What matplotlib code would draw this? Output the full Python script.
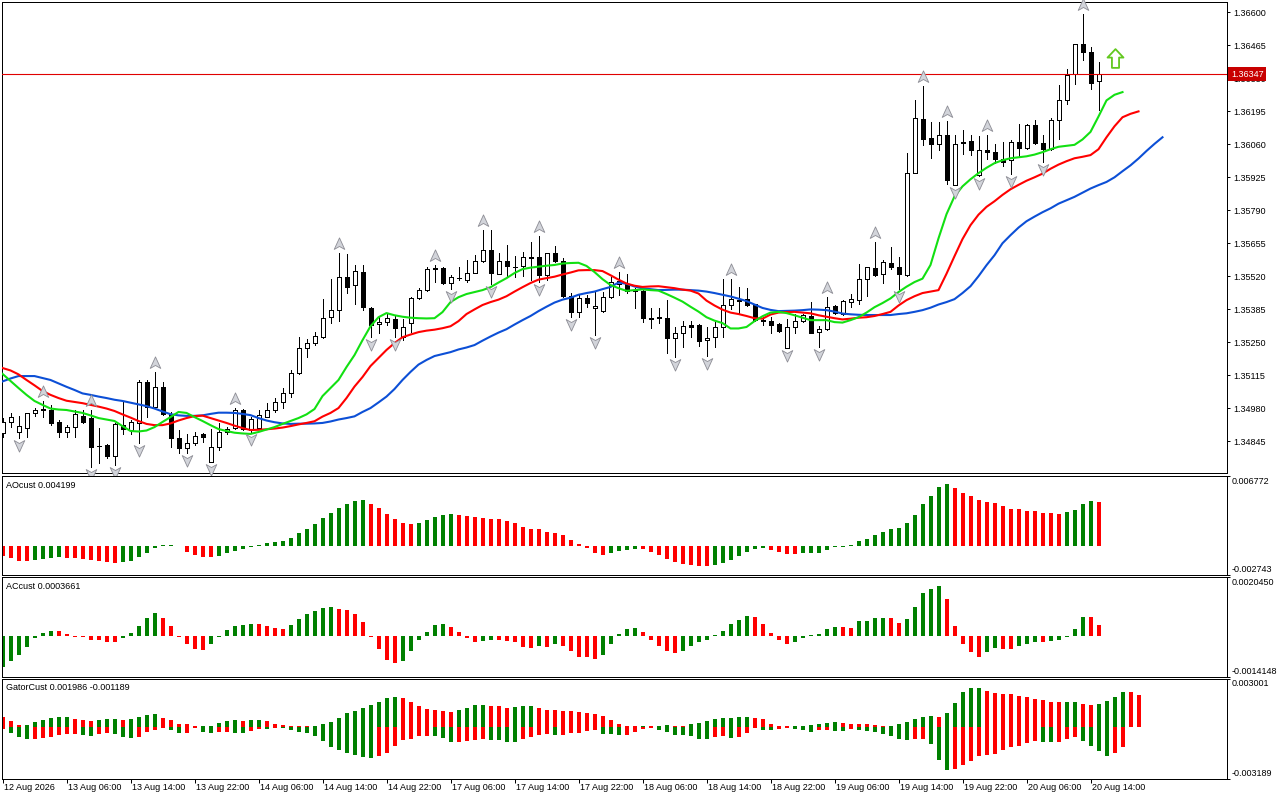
import numpy as np
import matplotlib
matplotlib.use("Agg")
import matplotlib.pyplot as plt
from matplotlib.path import Path
from matplotlib.transforms import offset_copy, blended_transform_factory

# ---------------- data (H1 bars, 12 Aug 22:00 .. 20 Aug 15:00) ----------------
open_ = [1.34878, 1.34922, 1.34881, 1.34897, 1.34959, 1.34974, 1.34972, 1.34922, 1.34881, 1.34901,
         1.34948, 1.34938, 1.34825, 1.34829, 1.34785, 1.34911, 1.34890, 1.34918, 1.35085, 1.34986,
         1.35067, 1.34954, 1.34856, 1.34815, 1.34836, 1.34874, 1.34758, 1.34822, 1.34883, 1.34897,
         1.34972, 1.34890, 1.34897, 1.34945, 1.34971, 1.35006, 1.35043, 1.35122, 1.35225, 1.35247,
         1.35272, 1.35351, 1.35381, 1.35515, 1.35483, 1.35538, 1.35388, 1.35323, 1.35331, 1.35344,
         1.35272, 1.35327, 1.35429, 1.35463, 1.35551, 1.35552, 1.35494, 1.35512, 1.35504, 1.35535,
         1.35582, 1.35629, 1.35531, 1.35583, 1.35557, 1.35561, 1.35599, 1.35597, 1.35524, 1.35613,
         1.35583, 1.35438, 1.35374, 1.35429, 1.35388, 1.35378, 1.35433, 1.35490, 1.35490, 1.35463,
         1.35460, 1.35348, 1.35347, 1.35347, 1.35265, 1.35286, 1.35320, 1.35320, 1.35258, 1.35269,
         1.35310, 1.35404, 1.35420, 1.35425, 1.35406, 1.35340, 1.35336, 1.35323, 1.35225, 1.35313,
         1.35336, 1.35357, 1.35290, 1.35302, 1.35398, 1.35364, 1.35415, 1.35422, 1.35507, 1.35552,
         1.35528, 1.35575, 1.35558, 1.35524, 1.35943, 1.36165, 1.36087, 1.36063, 1.36100, 1.35892,
         1.36067, 1.36072, 1.35933, 1.36036, 1.36029, 1.35998, 1.35995, 1.36069, 1.36047, 1.36138,
         1.36065, 1.36043, 1.36161, 1.36243, 1.36349, 1.36472, 1.36438, 1.36318]
high = [1.34939, 1.34960, 1.34949, 1.34961, 1.34980, 1.35009, 1.34993, 1.34931, 1.34911, 1.34972,
        1.34972, 1.34972, 1.34898, 1.34832, 1.34918, 1.35006, 1.34931, 1.35095, 1.35095, 1.35129,
        1.35088, 1.34965, 1.34890, 1.34874, 1.34881, 1.34877, 1.34893, 1.34920, 1.34904, 1.34979,
        1.34975, 1.34944, 1.34972, 1.34999, 1.35020, 1.35061, 1.35136, 1.35272, 1.35261, 1.35292,
        1.35426, 1.35507, 1.35613, 1.35610, 1.35565, 1.35565, 1.35392, 1.35357, 1.35368, 1.35357,
        1.35343, 1.35436, 1.35470, 1.35558, 1.35565, 1.35556, 1.35524, 1.35558, 1.35586, 1.35606,
        1.35711, 1.35711, 1.35616, 1.35647, 1.35602, 1.35620, 1.35660, 1.35684, 1.35616, 1.35643,
        1.35593, 1.35450, 1.35443, 1.35443, 1.35456, 1.35456, 1.35517, 1.35538, 1.35531, 1.35471,
        1.35470, 1.35388, 1.35388, 1.35422, 1.35313, 1.35336, 1.35336, 1.35324, 1.35310, 1.35333,
        1.35507, 1.35507, 1.35476, 1.35470, 1.35408, 1.35351, 1.35354, 1.35327, 1.35343, 1.35364,
        1.35364, 1.35415, 1.35316, 1.35433, 1.35402, 1.35422, 1.35446, 1.35572, 1.35558, 1.35660,
        1.35588, 1.35638, 1.35599, 1.36024, 1.36240, 1.36301, 1.36151, 1.36151, 1.36155, 1.36097,
        1.36117, 1.36097, 1.36093, 1.36097, 1.36063, 1.36069, 1.36079, 1.36142, 1.36142, 1.36161,
        1.36097, 1.36169, 1.36305, 1.36370, 1.36472, 1.36595, 1.36458, 1.36397]
low = [1.34862, 1.34903, 1.34856, 1.34860, 1.34948, 1.34945, 1.34911, 1.34863, 1.34863, 1.34863,
       1.34920, 1.34740, 1.34755, 1.34777, 1.34747, 1.34874, 1.34874, 1.34837, 1.34945, 1.34979,
       1.34952, 1.34822, 1.34795, 1.34795, 1.34829, 1.34842, 1.34758, 1.34808, 1.34874, 1.34893,
       1.34890, 1.34882, 1.34893, 1.34942, 1.34965, 1.34979, 1.35027, 1.35119, 1.35190, 1.35238,
       1.35265, 1.35327, 1.35337, 1.35452, 1.35408, 1.35381, 1.35269, 1.35288, 1.35320, 1.35269,
       1.35258, 1.35292, 1.35425, 1.35460, 1.35497, 1.35490, 1.35466, 1.35504, 1.35497, 1.35534,
       1.35579, 1.35487, 1.35528, 1.35517, 1.35515, 1.35520, 1.35504, 1.35497, 1.35504, 1.35579,
       1.35433, 1.35351, 1.35354, 1.35392, 1.35279, 1.35374, 1.35429, 1.35443, 1.35450, 1.35388,
       1.35333, 1.35306, 1.35327, 1.35207, 1.35190, 1.35228, 1.35272, 1.35234, 1.35193, 1.35231,
       1.35272, 1.35384, 1.35368, 1.35398, 1.35337, 1.35320, 1.35286, 1.35292, 1.35225, 1.35286,
       1.35333, 1.35286, 1.35231, 1.35299, 1.35364, 1.35361, 1.35395, 1.35406, 1.35438, 1.35520,
       1.35493, 1.35548, 1.35466, 1.35520, 1.35943, 1.36056, 1.36006, 1.36036, 1.35896, 1.35892,
       1.36022, 1.36015, 1.35929, 1.35998, 1.35984, 1.35970, 1.35940, 1.36011, 1.36043, 1.36063,
       1.35988, 1.36038, 1.36083, 1.36227, 1.36308, 1.36404, 1.36288, 1.36202]
close = [1.34923, 1.34945, 1.34908, 1.34959, 1.34972, 1.34976, 1.34920, 1.34881, 1.34901, 1.34954,
         1.34924, 1.34822, 1.34823, 1.34785, 1.34914, 1.34893, 1.34922, 1.35085, 1.34986, 1.35067,
         1.34954, 1.34856, 1.34815, 1.34836, 1.34867, 1.34860, 1.34822, 1.34883, 1.34893, 1.34972,
         1.34893, 1.34934, 1.34952, 1.34972, 1.35006, 1.35043, 1.35122, 1.35225, 1.35245, 1.35275,
         1.35347, 1.35381, 1.35515, 1.35476, 1.35541, 1.35392, 1.35320, 1.35331, 1.35347, 1.35306,
         1.35313, 1.35429, 1.35463, 1.35548, 1.35553, 1.35493, 1.35515, 1.35514, 1.35535, 1.35582,
         1.35627, 1.35534, 1.35583, 1.35561, 1.35559, 1.35599, 1.35593, 1.35524, 1.35613, 1.35583,
         1.35438, 1.35374, 1.35429, 1.35411, 1.35399, 1.35436, 1.35497, 1.35500, 1.35460, 1.35461,
         1.35347, 1.35346, 1.35354, 1.35265, 1.35286, 1.35317, 1.35313, 1.35256, 1.35265, 1.35310,
         1.35404, 1.35425, 1.35422, 1.35402, 1.35340, 1.35336, 1.35320, 1.35296, 1.35310, 1.35336,
         1.35360, 1.35288, 1.35302, 1.35392, 1.35368, 1.35418, 1.35425, 1.35507, 1.35556, 1.35524,
         1.35579, 1.35558, 1.35528, 1.35943, 1.36169, 1.36083, 1.36063, 1.36097, 1.35916, 1.36063,
         1.36069, 1.36038, 1.36036, 1.36029, 1.35998, 1.35988, 1.36069, 1.36047, 1.36138, 1.36065,
         1.36043, 1.36161, 1.36243, 1.36346, 1.36472, 1.36438, 1.36311, 1.36347]

# Alligator lines (as displayed, shifted forward)
lips = [1.35120, 1.35091, 1.35062, 1.35034, 1.35009, 1.34993, 1.34978, 1.34974, 1.34972, 1.34966,
        1.34960, 1.34950, 1.34939, 1.34933, 1.34927, 1.34906, 1.34886, 1.34884, 1.34888, 1.34902,
        1.34923, 1.34943, 1.34964, 1.34960, 1.34943, 1.34927, 1.34910, 1.34894, 1.34886, 1.34879,
        1.34876, 1.34874, 1.34882, 1.34892, 1.34902, 1.34915, 1.34927, 1.34939, 1.34954, 1.34976,
        1.35029, 1.35062, 1.35095, 1.35148, 1.35197, 1.35258, 1.35315, 1.35352, 1.35369, 1.35360,
        1.35354, 1.35350, 1.35348, 1.35347, 1.35348, 1.35373, 1.35414, 1.35434, 1.35447, 1.35455,
        1.35463, 1.35475, 1.35494, 1.35512, 1.35533, 1.35549, 1.35555, 1.35559, 1.35563, 1.35566,
        1.35572, 1.35574, 1.35575, 1.35562, 1.35537, 1.35508, 1.35484, 1.35471, 1.35460, 1.35463,
        1.35466, 1.35463, 1.35461, 1.35447, 1.35432, 1.35416, 1.35395, 1.35375, 1.35352, 1.35338,
        1.35328, 1.35306, 1.35306, 1.35312, 1.35336, 1.35356, 1.35371, 1.35374, 1.35369, 1.35360,
        1.35350, 1.35340, 1.35340, 1.35340, 1.35332, 1.35330, 1.35340, 1.35352, 1.35371, 1.35393,
        1.35410, 1.35429, 1.35455, 1.35477, 1.35496, 1.35510, 1.35566, 1.35675, 1.35774, 1.35847,
        1.35888, 1.35917, 1.35942, 1.35964, 1.35983, 1.35995, 1.36003, 1.36007, 1.36011, 1.36018,
        1.36028, 1.36040, 1.36050, 1.36054, 1.36058, 1.36080, 1.36111, 1.36174, 1.36240, 1.36263,
        1.36274]
teeth = [1.35144, 1.35134, 1.35118, 1.35095, 1.35073, 1.35050, 1.35034, 1.35021, 1.35010, 1.35005,
         1.35000, 1.34993, 1.34986, 1.34978, 1.34968, 1.34954, 1.34941, 1.34927, 1.34915, 1.34910,
         1.34910, 1.34917, 1.34929, 1.34939, 1.34947, 1.34949, 1.34939, 1.34929, 1.34919, 1.34908,
         1.34898, 1.34890, 1.34891, 1.34893, 1.34896, 1.34900, 1.34906, 1.34913, 1.34919, 1.34926,
         1.34945, 1.34960, 1.34980, 1.35021, 1.35068, 1.35107, 1.35152, 1.35185, 1.35218, 1.35246,
         1.35270, 1.35281, 1.35291, 1.35297, 1.35301, 1.35307, 1.35315, 1.35336, 1.35365, 1.35384,
         1.35402, 1.35414, 1.35424, 1.35438, 1.35457, 1.35475, 1.35492, 1.35506, 1.35512, 1.35518,
         1.35527, 1.35535, 1.35544, 1.35545, 1.35545, 1.35541, 1.35524, 1.35506, 1.35490, 1.35481,
         1.35476, 1.35478, 1.35479, 1.35475, 1.35471, 1.35465, 1.35461, 1.35449, 1.35420, 1.35400,
         1.35383, 1.35371, 1.35365, 1.35357, 1.35348, 1.35346, 1.35363, 1.35371, 1.35373, 1.35374,
         1.35371, 1.35368, 1.35360, 1.35354, 1.35348, 1.35343, 1.35346, 1.35350, 1.35352, 1.35357,
         1.35365, 1.35374, 1.35400, 1.35422, 1.35438, 1.35451, 1.35457, 1.35463, 1.35530, 1.35602,
         1.35672, 1.35729, 1.35772, 1.35804, 1.35827, 1.35853, 1.35876, 1.35894, 1.35911, 1.35925,
         1.35940, 1.35960, 1.35977, 1.35991, 1.36003, 1.36009, 1.36016, 1.36040, 1.36089, 1.36134,
         1.36171, 1.36185, 1.36195]
jaw = [1.35089, 1.35101, 1.35111, 1.35111, 1.35111, 1.35103, 1.35095, 1.35081, 1.35067, 1.35054,
       1.35040, 1.35034, 1.35027, 1.35021, 1.35014, 1.35009, 1.35002, 1.34995, 1.34988, 1.34978,
       1.34966, 1.34955, 1.34950, 1.34948, 1.34948, 1.34950, 1.34956, 1.34961, 1.34961, 1.34960,
       1.34956, 1.34951, 1.34939, 1.34929, 1.34922, 1.34917, 1.34915, 1.34916, 1.34916, 1.34917,
       1.34919, 1.34925, 1.34933, 1.34939, 1.34946, 1.34964, 1.34980, 1.35003, 1.35027, 1.35058,
       1.35095, 1.35128, 1.35158, 1.35177, 1.35193, 1.35201, 1.35209, 1.35220, 1.35228, 1.35238,
       1.35256, 1.35273, 1.35289, 1.35303, 1.35322, 1.35340, 1.35357, 1.35377, 1.35395, 1.35412,
       1.35424, 1.35432, 1.35444, 1.35451, 1.35457, 1.35467, 1.35476, 1.35494, 1.35489, 1.35478,
       1.35470, 1.35467, 1.35463, 1.35464, 1.35465, 1.35465, 1.35463, 1.35461, 1.35457, 1.35451,
       1.35444, 1.35437, 1.35428, 1.35418, 1.35404, 1.35390, 1.35382, 1.35377, 1.35378, 1.35379,
       1.35381, 1.35384, 1.35383, 1.35381, 1.35375, 1.35367, 1.35364, 1.35362, 1.35361, 1.35361,
       1.35361, 1.35361, 1.35365, 1.35368, 1.35374, 1.35381, 1.35391, 1.35404, 1.35414, 1.35426,
       1.35451, 1.35479, 1.35520, 1.35565, 1.35606, 1.35655, 1.35688, 1.35719, 1.35745, 1.35764,
       1.35782, 1.35798, 1.35817, 1.35831, 1.35845, 1.35862, 1.35879, 1.35893, 1.35906, 1.35925,
       1.35950, 1.35974, 1.36002, 1.36033, 1.36062, 1.36089]

fractal_up = [5, 11, 19, 29, 42, 54, 60, 67, 77, 91, 103, 109, 115, 118, 123, 135]
fractal_down = [2, 11, 14, 17, 23, 26, 31, 46, 49, 56, 61, 67, 71, 74, 84, 88, 98, 102,
                112, 119, 122, 126, 130]

signal_index = [139]
signal_price = [1.36412]
bid_price = 1.36347

ao = [-0.00093, -0.00109, -0.00141, -0.00142, -0.00131, -0.00125, -0.00109, -0.00103, -0.00109, -0.00115,
      -0.00125, -0.00135, -0.00141, -0.00151, -0.00160, -0.00151, -0.00141, -0.00103, -0.00064, -0.00013,
      0.00008, 0.00009, 0.00007, -0.00054, -0.00086, -0.00103, -0.00105, -0.00093, -0.00067, -0.00048,
      -0.00026, -0.00008, 0.00009, 0.00029, 0.00038, 0.00051, 0.00083, 0.00125, 0.00163, 0.00211,
      0.00272, 0.00317, 0.00362, 0.00404, 0.00436, 0.00442, 0.00404, 0.00362, 0.00308, 0.00259,
      0.00221, 0.00211, 0.00221, 0.00250, 0.00276, 0.00298, 0.00308, 0.00298, 0.00292, 0.00276,
      0.00269, 0.00259, 0.00257, 0.00240, 0.00221, 0.00189, 0.00170, 0.00168, 0.00138, 0.00125,
      0.00106, 0.00058, 0.00019, -0.00013, -0.00067, -0.00083, -0.00067, -0.00045, -0.00038, -0.00029,
      -0.00030, -0.00058, -0.00086, -0.00125, -0.00154, -0.00173, -0.00183, -0.00192, -0.00193, -0.00183,
      -0.00163, -0.00135, -0.00093, -0.00058, -0.00026, -0.00019, -0.00038, -0.00054, -0.00077, -0.00078,
      -0.00067, -0.00066, -0.00064, -0.00038, -0.00010, -0.00007, 0.00008, 0.00048, 0.00070, 0.00106,
      0.00138, 0.00167, 0.00176, 0.00221, 0.00301, 0.00404, 0.00481, 0.00570, 0.00596, 0.00557,
      0.00509, 0.00481, 0.00442, 0.00423, 0.00413, 0.00384, 0.00359, 0.00358, 0.00340, 0.00339,
      0.00317, 0.00316, 0.00311, 0.00327, 0.00349, 0.00404, 0.00432, 0.004199]
ac = [-0.00109, -0.00089, -0.00066, -0.00040, -0.00009, 0.00010, 0.00017, 0.00016, 0.00007, -0.00004,
      -0.00005, -0.00013, -0.00016, -0.00020, -0.00021, -0.00007, 0.00010, 0.00035, 0.00062, 0.00080,
      0.00062, 0.00035, -0.00004, -0.00030, -0.00047, -0.00051, -0.00030, -0.00005, 0.00021, 0.00035,
      0.00038, 0.00042, 0.00041, 0.00035, 0.00028, 0.00024, 0.00038, 0.00059, 0.00076, 0.00087,
      0.00097, 0.00101, 0.00094, 0.00090, 0.00076, 0.00049, -0.00004, -0.00047, -0.00083, -0.00094,
      -0.00089, -0.00054, -0.00016, 0.00014, 0.00038, 0.00042, 0.00031, 0.00014, -0.00006, -0.00020,
      -0.00019, -0.00013, -0.00016, -0.00017, -0.00023, -0.00040, -0.00044, -0.00037, -0.00040, -0.00030,
      -0.00037, -0.00054, -0.00072, -0.00073, -0.00082, -0.00065, -0.00027, 0.00005, 0.00024, 0.00028,
      0.00014, -0.00016, -0.00037, -0.00054, -0.00061, -0.00054, -0.00034, -0.00023, -0.00016, 0.00004,
      0.00017, 0.00042, 0.00056, 0.00069, 0.00066, 0.00042, 0.00010, -0.00013, -0.00030, -0.00023,
      -0.00009, 0.00004, 0.00005, 0.00024, 0.00031, 0.00030, 0.00028, 0.00050, 0.00052, 0.00062,
      0.00063, 0.00062, 0.00045, 0.00059, 0.00101, 0.00149, 0.00163, 0.00174, 0.00128, 0.00035,
      -0.00030, -0.00058, -0.00075, -0.00058, -0.00044, -0.00045, -0.00047, -0.00034, -0.00027, -0.00020,
      -0.00021, -0.00019, -0.00013, -0.00004, 0.00024, 0.00066, 0.00065, 0.0003661]
gator_up = [0.00062, 0.00039, 0.00014, 0.00016, 0.00035, 0.00045, 0.00056, 0.00060, 0.00061, 0.00051,
            0.00045, 0.00039, 0.00047, 0.00051, 0.00052, 0.00045, 0.00051, 0.00062, 0.00078, 0.00079,
            0.00058, 0.00045, 0.00021, 0.00020, 0.00006, 0.00008, 0.00010, 0.00029, 0.00041, 0.00045,
            0.00041, 0.00045, 0.00046, 0.00041, 0.00021, 0.00014, 0.00009, 0.00007, 0.00006, 0.00010,
            0.00022, 0.00035, 0.00056, 0.00086, 0.00099, 0.00117, 0.00138, 0.00158, 0.00181, 0.00185,
            0.00179, 0.00154, 0.00130, 0.00113, 0.00107, 0.00099, 0.00095, 0.00107, 0.00119, 0.00134,
            0.00138, 0.00130, 0.00129, 0.00117, 0.00123, 0.00130, 0.00131, 0.00119, 0.00107, 0.00106,
            0.00103, 0.00097, 0.00096, 0.00088, 0.00082, 0.00068, 0.00045, 0.00021, 0.00008, 0.00006,
            0.00007, 0.00006, 0.00008, 0.00014, 0.00010, 0.00006, 0.00021, 0.00029, 0.00039, 0.00051,
            0.00058, 0.00059, 0.00060, 0.00064, 0.00056, 0.00051, 0.00021, 0.00008, 0.00006, 0.00007,
            0.00010, 0.00016, 0.00017, 0.00029, 0.00035, 0.00029, 0.00021, 0.00020, 0.00019, 0.00014,
            0.00006, 0.00008, 0.00021, 0.00035, 0.00051, 0.00060, 0.00070, 0.00064, 0.00088, 0.00150,
            0.00218, 0.00243, 0.00244, 0.00224, 0.00212, 0.00206, 0.00205, 0.00193, 0.00187, 0.00175,
            0.00169, 0.00156, 0.00155, 0.00156, 0.00157, 0.00144, 0.00138, 0.00144, 0.00163, 0.00187,
            0.00216, 0.00215, 0.001986]
gator_down = [-0.00014, -0.00037, -0.00062, -0.00072, -0.00070, -0.00068, -0.00062, -0.00047, -0.00041, -0.00040,
              -0.00047, -0.00053, -0.00041, -0.00035, -0.00041, -0.00058, -0.00066, -0.00058, -0.00027, -0.00016,
              -0.00006, -0.00016, -0.00035, -0.00034, -0.00006, -0.00027, -0.00035, -0.00031, -0.00030, -0.00035,
              -0.00036, -0.00021, -0.00010, -0.00011, -0.00006, -0.00007, -0.00016, -0.00027, -0.00035, -0.00051,
              -0.00082, -0.00119, -0.00140, -0.00156, -0.00171, -0.00181, -0.00187, -0.00175, -0.00156, -0.00113,
              -0.00076, -0.00072, -0.00056, -0.00055, -0.00056, -0.00066, -0.00093, -0.00089, -0.00085, -0.00076,
              -0.00074, -0.00076, -0.00080, -0.00088, -0.00089, -0.00072, -0.00062, -0.00045, -0.00044, -0.00046,
              -0.00045, -0.00035, -0.00034, -0.00025, -0.00016, -0.00041, -0.00042, -0.00047, -0.00046, -0.00027,
              -0.00010, -0.00006, -0.00016, -0.00027, -0.00047, -0.00048, -0.00051, -0.00072, -0.00073, -0.00058,
              -0.00057, -0.00066, -0.00058, -0.00033, -0.00006, -0.00016, -0.00017, -0.00010, -0.00006, -0.00010,
              -0.00016, -0.00027, -0.00016, -0.00015, -0.00021, -0.00022, -0.00010, -0.00016, -0.00021, -0.00027,
              -0.00041, -0.00051, -0.00072, -0.00076, -0.00072, -0.00071, -0.00103, -0.00202, -0.00263, -0.00255,
              -0.00230, -0.00206, -0.00175, -0.00171, -0.00165, -0.00140, -0.00119, -0.00113, -0.00097, -0.00082,
              -0.00088, -0.00091, -0.00088, -0.00072, -0.00062, -0.00082, -0.00113, -0.00144, -0.00175, -0.00161,
              -0.001189]

price_ticks = [1.36600, 1.36465, 1.36330, 1.36195, 1.36060, 1.35925, 1.35790, 1.35655,
               1.35520, 1.35385, 1.35250, 1.35115, 1.34980, 1.34845]
price_range = (1.34714, 1.36643)
ao_range = (-0.002743, 0.006772)
ac_range = (-0.0014148, 0.0020450)
gator_range = (-0.003189, 0.003001)

time_ticks = list(range(0, 137, 8))
time_labels = ["12 Aug 2026", "13 Aug 06:00", "13 Aug 14:00", "13 Aug 22:00", "14 Aug 06:00",
               "14 Aug 14:00", "14 Aug 22:00", "17 Aug 06:00", "17 Aug 14:00", "17 Aug 22:00",
               "18 Aug 06:00", "18 Aug 14:00", "18 Aug 22:00", "19 Aug 06:00", "19 Aug 14:00",
               "19 Aug 22:00", "20 Aug 06:00", "20 Aug 14:00"]

# ---------------- styling ----------------
plt.rcParams['font.family'] = ['Liberation Sans', 'DejaVu Sans']
plt.rcParams['font.size'] = 6.5
GREEN = '#008000'
RED = '#ff0000'
PX = 0.72  # one pixel in points at 100 dpi

W, H = 1280, 800
fig = plt.figure(figsize=(12.8, 8), dpi=100)
fig.patch.set_facecolor('white')


def panel(top, bottom, left=2, right=1227):
    a = fig.add_axes([left / W, 1 - bottom / H, (right - left) / W, (bottom - top) / H])
    for s in a.spines.values():
        s.set_linewidth(PX)
        s.set_color('black')
    a.set_xlim(-0.0625, 153.0625)
    a.tick_params(axis='x', bottom=False, labelbottom=False)
    a.yaxis.tick_right()
    a.tick_params(axis='y', direction='out', length=3 * PX, width=PX, pad=2.5, labelsize=6.5)
    return a


ax = panel(2, 473)
ax_ao = panel(475.5, 575)
ax_ac = panel(577, 676.5)
ax_g = panel(678.5, 779)

# ---------------- main price panel ----------------
o = np.array(open_); h = np.array(high); l = np.array(low); c = np.array(close)
xi = np.arange(len(c))
bull = c >= o
ax.vlines(xi, l, h, color='black', lw=PX, antialiased=False, zorder=2)
ax.bar(xi, np.abs(c - o), bottom=np.minimum(o, c), width=0.5,
       facecolor=np.where(bull, 'white', 'black'), edgecolor='black', linewidth=PX,
       antialiased=False, zorder=3)

ax.plot(np.arange(len(jaw)), jaw, color='#0c4fd6', lw=1.5, zorder=4)
ax.plot(np.arange(len(teeth)), teeth, color='#ff0000', lw=1.5, zorder=4)
ax.plot(np.arange(len(lips)), lips, color='#12e012', lw=1.5, zorder=4)

up_arrow = Path([(0, 1), (0.8, -0.75), (0, -0.3), (-0.8, -0.75), (0, 1)],
                [Path.MOVETO, Path.LINETO, Path.LINETO, Path.LINETO, Path.CLOSEPOLY])
down_arrow = Path([(0, -1), (0.8, 0.75), (0, 0.3), (-0.8, 0.75), (0, -1)],
                  [Path.MOVETO, Path.LINETO, Path.LINETO, Path.LINETO, Path.CLOSEPOLY])
tr_up = offset_copy(ax.transData, fig=fig, x=0, y=9, units='dots')
tr_dn = offset_copy(ax.transData, fig=fig, x=0, y=-7, units='dots')
ax.plot(fractal_up, h[fractal_up], ls='none', marker=up_arrow, ms=9.5, mfc='#d2d4da',
        mec='#8c8c94', mew=0.6, transform=tr_up, zorder=5, clip_on=False)
ax.plot(fractal_down, l[fractal_down], ls='none', marker=down_arrow, ms=9.5, mfc='#d2d4da',
        mec='#8c8c94', mew=0.6, transform=tr_dn, zorder=5, clip_on=False)

block_up = Path([(0, 1), (0.85, 0.1), (0.38, 0.1), (0.38, -1), (-0.38, -1), (-0.38, 0.1),
                 (-0.85, 0.1), (0, 1)],
                [Path.MOVETO] + [Path.LINETO] * 6 + [Path.CLOSEPOLY])
ax.plot(signal_index, signal_price, ls='none', marker=block_up, ms=13.5, mfc='white',
        mec='#62c81e', mew=1.3, zorder=6)

ax.axhline(bid_price, color='#e00000', lw=0.8, zorder=4)

ax.set_ylim(*price_range)
ax.set_yticks(price_ticks)
ax.set_yticklabels([f'{t:.5f}' for t in price_ticks])
bt = offset_copy(blended_transform_factory(ax.transAxes, ax.transData), fig=fig, x=4, y=0, units='dots')
ax.text(1.0, bid_price, f'{bid_price:.5f}', transform=bt, ha='left', va='center', color='white',
        fontsize=6.5, zorder=10,
        bbox=dict(boxstyle='square,pad=0.28', fc='#c80000', ec='none'))

# ---------------- indicator panels ----------------
def hist_colors(vals, first, use_abs=False):
    v = np.abs(vals) if use_abs else np.asarray(vals)
    cols = [first]
    for a, b in zip(v[:-1], v[1:]):
        cols.append(GREEN if b > a else RED)
    return cols


def range_labels(a, rng, fmt):
    lo, hi = rng
    a.set_ylim(lo, hi)
    a.set_yticks([lo, hi])
    a.set_yticklabels(['', ''])
    a.text(1.0, 1.0, fmt.format(hi), transform=offset_copy(a.transAxes, fig=fig, x=5, y=-1, units='dots'),
           ha='left', va='top')
    a.text(1.0, 0.0, fmt.format(lo), transform=offset_copy(a.transAxes, fig=fig, x=5, y=1, units='dots'),
           ha='left', va='bottom')


def title(a, s):
    a.text(0.0, 1.0, s, transform=offset_copy(a.transAxes, fig=fig, x=4, y=-9.5, units='dots'),
           ha='left', va='center')


ax_ao.bar(np.arange(len(ao)), ao, width=0.5, color=hist_colors(ao, RED), antialiased=False)
range_labels(ax_ao, ao_range, '{:.6f}')
title(ax_ao, f'AOcust {ao[-1]:.6f}')

ax_ac.bar(np.arange(len(ac)), ac, width=0.5, color=hist_colors(ac, GREEN), antialiased=False)
range_labels(ax_ac, ac_range, '{:.7f}')
title(ax_ac, f'ACcust {ac[-1]:.7f}')

ax_g.bar(np.arange(len(gator_up)), gator_up, width=0.5, color=hist_colors(gator_up, RED), antialiased=False)
ax_g.bar(np.arange(len(gator_down)), gator_down, width=0.5,
         color=hist_colors(gator_down, RED, use_abs=True), antialiased=False)
range_labels(ax_g, gator_range, '{:.6f}')
title(ax_g, f'GatorCust {gator_up[-1]:.6f} {gator_down[-1]:.6f}')

# time axis
ax_g.set_xticks(time_ticks)
ax_g.tick_params(axis='x', bottom=True, direction='out', length=4 * PX, width=PX, labelbottom=False)
tt = offset_copy(blended_transform_factory(ax_g.transData, ax_g.transAxes), fig=fig, x=1, y=-9, units='dots')
for t, lab in zip(time_ticks, time_labels):
    ax_g.text(t, 0.0, lab, transform=tt, ha='left', va='center')

fig.savefig('out.png', dpi=100)
